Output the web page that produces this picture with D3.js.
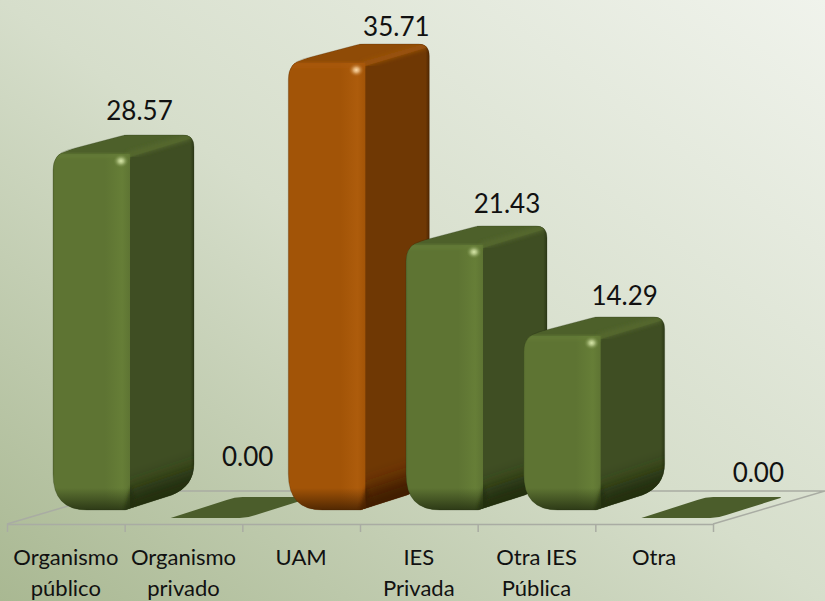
<!DOCTYPE html>
<html>
<head>
<meta charset="utf-8">
<script src="https://d3js.org/d3.v7.min.js"></script>
<style>
  html, body { margin: 0; padding: 0; background: #d0d8c2; }
  svg { display: block; }
  text { font-family: Lato, "Open Sans", sans-serif; fill: #111; }
</style>
</head>
<body>
<div id="chart"></div>
<script>
var svgWidth = 825;
var svgHeight = 601;

// data
var categories = ["Organismo público", "Organismo privado", "UAM", "IES Privada", "Otra IES Pública", "Otra"];
var values = [28.57, 0, 35.71, 21.43, 14.29, 0];
var highlighted = ["UAM"];

// hand placed value labels, the original has them dragged around
var labelDx = [16, 6.5, 37.5, 30.5, 30.5, 46.5];
var labelDy = [-15, -31, -8, -13, -12, -15];

var barW = 77, depthX = 64, depthY = 18, barInset = 46;

var svg = d3.select("#chart").append("svg")
  .attr("width", svgWidth)
  .attr("height", svgHeight);

var defs = svg.append("defs");

function linGrad(id, x1, y1, x2, y2, stops) {
  var g = defs.append("linearGradient").attr("id", id)
    .attr("x1", x1).attr("y1", y1).attr("x2", x2).attr("y2", y2);
  stops.forEach(s => g.append("stop").attr("offset", s[0]).attr("stop-color", s[1]).attr("stop-opacity", s[2] === undefined ? 1 : s[2]));
}

linGrad("bg", 1, 0, 0, 1, [[0, "#f0f3ec"], [0.5, "#d6decb"], [1, "#a9b892"]]);
defs.append("filter").attr("id", "soft").append("feGaussianBlur").attr("stdDeviation", 2.2);
defs.append("filter").attr("id", "soft2").append("feGaussianBlur").attr("stdDeviation", 1.6);
defs.append("filter").attr("id", "soft8")
  .attr("x", -0.5).attr("y", -0.5).attr("width", 2).attr("height", 2)
  .append("feGaussianBlur").attr("stdDeviation", 9);

var palettes = {
  green: { front: "#5e7433", frontEdge: "#667e37", top: "#4d602a", side: "#3f4e23", sideLow: "#222d10", ridge: "#56692e", glow: "#d6e6a8" },
  orange: { front: "#a25407", frontEdge: "#ad5c0c", top: "#8f4b06", side: "#6f3804", sideLow: "#3f1e01", ridge: "#9a5208", glow: "#ffdcaa" }
};

Object.keys(palettes).forEach(function(k) {
  var p = palettes[k];
  linGrad("front-" + k, 0, 0, 1, 0, [[0, d3.color(p.front).darker(0.25)], [0.04, p.front], [0.68, p.front], [0.9, p.frontEdge], [1, p.front]]);
  linGrad("side-" + k, 0, 0, 1, 0, [[0, p.side], [0.92, p.side], [1, p.sideLow]]);
  linGrad("shade-" + k, 0, 0, 0, 1, [[0, p.sideLow, 0], [1, p.sideLow, 1]]);
  var r = defs.append("radialGradient").attr("id", "glow-" + k);
  r.append("stop").attr("offset", 0).attr("stop-color", p.glow);
  r.append("stop").attr("offset", 0.35).attr("stop-color", p.glow).attr("stop-opacity", 0.6);
  r.append("stop").attr("offset", 1).attr("stop-color", p.frontEdge).attr("stop-opacity", 0);
});

svg.append("rect").attr("width", svgWidth).attr("height", svgHeight).attr("fill", "url(#bg)");

var xBand = d3.scaleBand().domain(categories).range([7, 713]);
var xTick = d3.scaleLinear().domain([0, categories.length]).range([7, 713]);
var y = d3.scaleLinear().domain([0, 35.71]).range([517, 62]);

// floor
var floorY = 524, backY = 491, floorDx = 112;
var floor = svg.append("g").attr("fill", "none").attr("stroke", "#a9aca3").attr("stroke-width", 1.5);
floor.append("path").attr("d", d3.line()([[7, floorY], [7 + floorDx, backY], [713 + floorDx, backY], [713, floorY]]));

var xAxis = d3.axisBottom(xTick)
  .ticks(categories.length)
  .tickSize(8)
  .tickSizeOuter(0)
  .tickFormat("");

var axisG = svg.append("g")
  .attr("transform", `translate(0, ${floorY})`)
  .call(xAxis);
axisG.selectAll("path, line").attr("stroke", "#a9aca3").attr("stroke-width", 1.5);

function barPath(x0, top, bot) {
  var x1 = x0 + barW, xr = x1 + depthX, backTop = top - depthY;
  return `M${x0},${top + 17}
    Q${x0},${top + 1} ${x0 + 15},${top - 3}
    L${x0 + 68},${backTop + 1}
    Q${x0 + 71},${backTop} ${x0 + 76},${backTop}
    L${xr - 11},${backTop}
    Q${xr},${backTop} ${xr},${backTop + 12}
    L${xr},${bot - 46}
    Q${xr},${bot - 24} ${xr - 22},${bot - 15}
    L${x1 - 5},${bot}
    L${x0 + 34},${bot}
    Q${x0},${bot} ${x0},${bot - 36}Z`;
}

function flatPath(x0, yFront) {
  var x1 = x0 + barW, dy = 21;
  return `M${x0},${yFront}
    L${x1 - 8},${yFront}
    Q${x1},${yFront} ${x1 + 8},${yFront - 3}
    L${x1 + depthX - 2},${yFront - dy + 1}
    Q${x1 + depthX},${yFront - dy} ${x1 + depthX - 3},${yFront - dy}
    L${x0 + depthX + 8},${yFront - dy}
    Q${x0 + depthX},${yFront - dy} ${x0 + depthX - 8},${yFront - dy + 3}Z`;
}

categories.forEach(function(cat, i) {
  var x0 = xBand(cat) + barInset;
  var key = highlighted.indexOf(cat) >= 0 ? "orange" : "green";
  var p = palettes[key];
  var g = svg.append("g").attr("class", "bar");

  if (values[i] === 0) {
    g.append("path").attr("d", flatPath(x0, y(0) + 1)).attr("fill", "#4b5d2b");
    return;
  }

  var top = y(values[i]), bot = y(0) - 7;
  var x1 = x0 + barW, xr = x1 + depthX;
  var clipId = "clip" + i;
  defs.append("clipPath").attr("id", clipId).append("path").attr("d", barPath(x0, top, bot));

  var body = g.append("g").attr("clip-path", `url(#${clipId})`);

  // side and top faces sit behind the front one
  body.append("rect").attr("x", x1 - 6).attr("y", top - depthY - 2).attr("width", depthX + 8).attr("height", bot - top + depthY + 4).attr("fill", `url(#side-${key})`);
  body.append("path")
    .attr("d", `M${x0 - 2},${top + 4} L${x0 + 66},${top - depthY - 4} L${xr + 4},${top - depthY - 4} L${xr + 2},${top - depthY + 2} L${x1},${top + 4}Z`)
    .attr("fill", p.top);
  // soft ridge between top and side
  body.append("path")
    .attr("d", `M${x1 - 2},${top + 2} L${xr - 4},${top - depthY + 2}`)
    .attr("stroke", p.ridge).attr("stroke-width", 5).attr("fill", "none").attr("filter", "url(#soft)");

  // underside of the side face, blurred so no edge shows
  body.append("path")
    .attr("d", `M${x1 - 14},${bot + 20} L${x1 - 6},${bot - 18} L${xr + 20},${bot - 48} L${xr + 20},${bot + 20}Z`)
    .attr("fill", p.sideLow).attr("filter", "url(#soft8)");

  // front face
  body.append("rect").attr("x", x0 - 1).attr("y", top + 1).attr("width", barW + 1).attr("height", bot - top).attr("fill", `url(#front-${key})`);
  body.append("rect").attr("x", x0).attr("y", top).attr("width", barW).attr("height", 6).attr("fill", p.frontEdge).attr("opacity", 0.55).attr("filter", "url(#soft2)");

  // soft edge between front and side
  body.append("path")
    .attr("d", `M${x1},${top + 6} L${x1},${bot - 26}`)
    .attr("stroke", p.front).attr("stroke-width", 2).attr("filter", "url(#soft2)");

  // darkening where the bar curves under
  body.append("rect").attr("x", x0 - 1).attr("y", bot - 22).attr("width", barW + 1).attr("height", 23).attr("fill", `url(#shade-${key})`).attr("opacity", 0.85);
  // dark wedge at the foot of the front/side edge
  body.append("path")
    .attr("d", `M${x1 + 1},${bot - 24} L${x1 - 6},${bot} L${x1 + 8},${bot} Z`)
    .attr("fill", p.sideLow).attr("opacity", 0.6).attr("filter", "url(#soft2)");

  // specular spot at the corner
  body.append("ellipse").attr("cx", x1 - 9).attr("cy", top + 8).attr("rx", 8).attr("ry", 7).attr("fill", `url(#glow-${key})`);

  // silhouette edge
  g.append("path").attr("d", barPath(x0, top, bot)).attr("fill", "none").attr("stroke", p.sideLow).attr("stroke-opacity", 0.3).attr("stroke-width", 0.8);
});

// value labels
svg.append("g").selectAll("text")
  .data(categories)
  .enter()
  .append("text")
  .attr("x", (d, i) => xBand(d) + barInset + (barW + depthX) / 2 + labelDx[i])
  .attr("y", (d, i) => (values[i] === 0 ? y(0) + 1 - 21 : y(values[i]) - depthY) + labelDy[i])
  .attr("text-anchor", "middle")
  .attr("font-size", 26)
  .text((d, i) => values[i].toFixed(2));

// category labels, two lines at most
var catLabels = svg.append("g").selectAll("text")
  .data(categories)
  .enter()
  .append("text")
  .attr("text-anchor", "middle")
  .attr("font-size", 22);

catLabels.each(function(d) {
  var words = d === "Otra IES Pública" ? ["Otra IES", "Pública"] : d.split(" ");
  var t = d3.select(this);
  words.forEach(function(w, j) {
    t.append("tspan")
      .attr("x", xBand(d) + xBand.bandwidth() / 2)
      .attr("y", 565 + j * 31)
      .text(w);
  });
});
</script>
</body>
</html>
